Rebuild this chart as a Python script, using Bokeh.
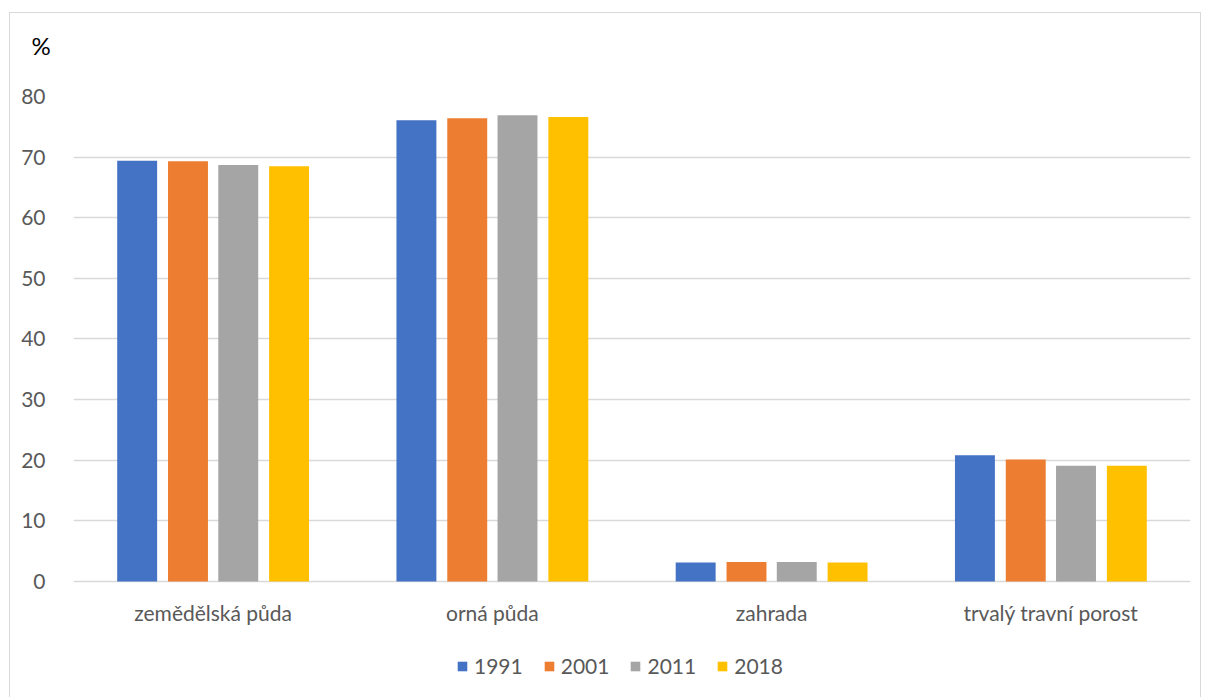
from bokeh.plotting import figure
from bokeh.models import ColumnDataSource, FactorRange, Legend, LegendItem, Range1d, FixedTicker
from bokeh.core.properties import value
from bokeh.transform import dodge
from bokeh.embed import file_html
from bokeh.resources import INLINE

categories = ["zemědělská půda", "orná půda", "zahrada", "trvalý travní porost"]
years = ["1991", "2001", "2011", "2018"]
v1991 = [69.4, 76.1, 3.1, 20.8]
v2001 = [69.3, 76.4, 3.2, 20.1]
v2011 = [68.7, 76.9, 3.2, 19.1]
v2018 = [68.5, 76.6, 3.1, 19.1]
colors = ["#4472C4", "#ED7D31", "#A5A5A5", "#FFC000"]
y_ticks = [0, 10, 20, 30, 40, 50, 60, 70, 80]

FONT = "Lato"
TEXT_GRAY = "#595959"

source = ColumnDataSource(dict(cat=categories, y1991=v1991, y2001=v2001, y2011=v2011, y2018=v2018))

# the plotting frame reaches below zero so the category names and the
# legend live inside it; gridlines are only drawn at the 0..80 ticks
p = figure(
    x_range=FactorRange(*categories, range_padding=0),
    y_range=Range1d(-18, 80),
    frame_width=1117, frame_height=594,
    output_backend="svg", toolbar_location=None,
    min_border_left=63, min_border_right=10, min_border_top=83, min_border_bottom=10,
)
p.styles = {"margin-left": "9px", "margin-top": "12px", "border": "1px solid #d9d9d9"}
p.outline_line_color = None
p.background_fill_color = "white"
p.border_fill_color = "white"

# unit label above the value axis (second blank line lifts it higher)
p.title.text = "%\n "
p.title.align = "left"
p.title.offset = -42
p.title.standoff = 15
p.title.text_font = FONT
p.title.text_font_size = "24px"
p.title.text_font_style = "normal"
p.title.text_color = "black"

offsets = [-0.272, -0.09, 0.09, 0.272]
renderers = []
for col, off, c in zip(["y1991", "y2001", "y2011", "y2018"], offsets, colors):
    r = p.vbar(x=dodge("cat", off, range=p.x_range), top=col, width=0.143, source=source,
               fill_color=c, line_color=None)
    renderers.append(r)

# category names under the zero line
p.text(x="cat", y=-5.1, text="cat", source=source,
       text_align="center", text_baseline="middle",
       text_font=value(FONT), text_font_size="21px", text_color=TEXT_GRAY)

p.xaxis.visible = False
p.xgrid.grid_line_color = None
p.ygrid.grid_line_color = "#d9d9d9"
p.ygrid.grid_line_width = 1.3
p.yaxis.ticker = FixedTicker(ticks=y_ticks)

p.yaxis.axis_line_color = None
p.yaxis.major_tick_line_color = None
p.yaxis.minor_tick_line_color = None
p.yaxis.major_label_standoff = 22
p.yaxis.major_label_text_font = FONT
p.yaxis.major_label_text_font_size = "21px"
p.yaxis.major_label_text_color = TEXT_GRAY

legend = Legend(
    items=[LegendItem(label=y, renderers=[r]) for y, r in zip(years, renderers)],
    orientation="horizontal", location=(383, 12),
    glyph_width=12, glyph_height=12, label_standoff=6, spacing=20,
    label_text_font=FONT, label_text_font_size="21px", label_text_color=TEXT_GRAY,
    border_line_color=None, background_fill_alpha=0, padding=0, margin=0,
)
p.add_layout(legend, "center")

open("out.html", "w").write(file_html(p, INLINE))
